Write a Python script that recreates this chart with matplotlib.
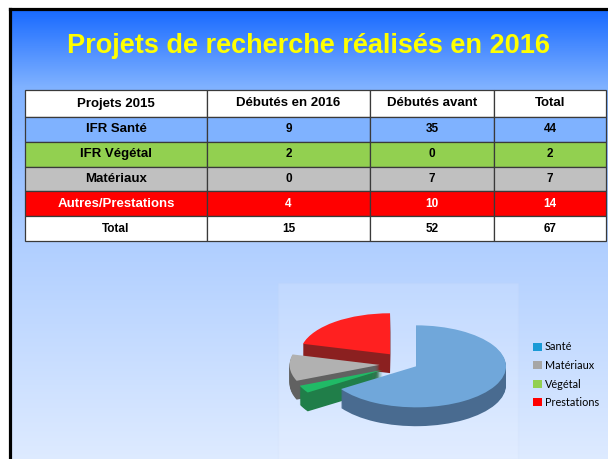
import matplotlib
matplotlib.use('Agg')
import matplotlib.pyplot as plt
import numpy as np
from matplotlib.colors import LinearSegmentedColormap
from matplotlib.patches import Patch, Rectangle

# --- data -------------------------------------------------------------
title = 'Projets de recherche réalisés en 2016'
header = ['Projets 2015', 'Débutés en 2016', 'Débutés avant', 'Total']
row_names = ['IFR Santé', 'IFR Végétal', 'Matériaux', 'Autres/Prestations', 'Total']
started_2016 = [9, 2, 0, 4, 15]
started_before = [35, 0, 7, 10, 52]
row_totals = [44, 2, 7, 14, 67]

# pie slices, clockwise from 12 o'clock
pie_names = ['Santé', 'Végétal', 'Matériaux', 'Prestations']
pie_values = [44, 2, 7, 14]
legend_names = ['Santé', 'Matériaux', 'Végétal', 'Prestations']

W, H = 608, 459


def px_box(x0, y0, x1, y1):
    # pixel box (top-left origin) -> figure fraction rect
    return [x0 / W, 1 - y1 / H, (x1 - x0) / W, (y1 - y0) / H]


fig = plt.figure(figsize=(W / 100, H / 100), dpi=100)
fig.patch.set_facecolor('white')

# slide background with vertical gradient
bg = fig.add_axes(px_box(9.5, 8.5, 620, 470))
grad = LinearSegmentedColormap.from_list(
    'slide', [(0, '#1769ff'), (0.17, '#80b2ff'), (0.5, '#afceff'), (1, '#e0ecff')])
bg.imshow(np.linspace(0, 1, 256).reshape(-1, 1), aspect='auto', cmap=grad,
          extent=[0, 1, 0, 1], origin='upper')
bg.set_xticks([])
bg.set_yticks([])
for side in bg.spines.values():
    side.set_linewidth(2.3)
    side.set_color('black')

fig.text(308.5 / W, 1 - 53 / H, title, ha='center', va='baseline',
         color='#ffff00', fontsize=19.5, fontweight='bold',
         family=['Liberation Sans', 'DejaVu Sans'])

# --- table ------------------------------------------------------------
ax_t = fig.add_axes(px_box(25, 90, 606, 241))
ax_t.axis('off')
cells = [[n, str(a), str(b), str(c)]
         for n, a, b, c in zip(row_names, started_2016, started_before, row_totals)]
row_colors = ['#7fb2ff', '#92d050', '#c0c0c0', '#ff0000', '#ffffff']
tbl = ax_t.table(cellText=cells, colLabels=header,
                 cellColours=[[c] * 4 for c in row_colors],
                 colColours=['#ffffff'] * 4,
                 colWidths=[182, 163, 124, 112],
                 cellLoc='center', bbox=[0, 0, 1, 1])
tbl.auto_set_font_size(False)
for (r, c), cell in tbl.get_celld().items():
    cell.set_edgecolor('#3a3a3a')
    cell.set_linewidth(0.9)
    cell.set_height(27 if r == 0 else 24.8)
    txt = cell.get_text()
    txt.set_fontweight('bold')
    txt.set_family(['Liberation Sans', 'DejaVu Sans'])
    if r == 0 or (c == 0 and r < 5):
        txt.set_fontsize(9.5)
    else:
        txt.set_fontsize(8.5)
    if r == 4:
        txt.set_color('white')

# --- pie chart --------------------------------------------------------
fig.add_artist(Rectangle((278 / W, 0), 240 / W, 1 - 283 / H,
                         transform=fig.transFigure, facecolor='white',
                         alpha=0.13, edgecolor='#c6d8f2', lw=0.8))

ax_p = fig.add_axes(px_box(278, 283, 518, 459))
top_colors = ['#5b9bd5', '#00b050', '#a6a6a6', '#ff0000']
side_colors = ['#2e5680', '#006b2e', '#4a4a4a', '#7a0000']
explode = [0.12, 0.3, 0.3, 0.3]
depth = 0.46
n_layers = 20
for k in range(n_layers, 0, -1):
    ax_p.pie(pie_values, explode=explode, colors=side_colors, startangle=90,
             counterclock=False, center=(0, -depth * k / n_layers),
             wedgeprops=dict(linewidth=0))
ax_p.pie(pie_values, explode=explode, colors=top_colors, startangle=90,
         counterclock=False, wedgeprops=dict(linewidth=0))
ax_p.set_aspect('auto')
ax_p.set_xlim(-1.428, 1.239)
ax_p.set_ylim(-2.317, 1.976)
ax_p.axis('off')

legend_colors = ['#1a9ad6', '#a6a6a6', '#92d050', '#ff0000']
handles = [Patch(facecolor=c, edgecolor='none', label=n)
           for n, c in zip(legend_names, legend_colors)]
fig.legend(handles=handles, loc='upper left',
           bbox_to_anchor=(528 / W, 1 - 336 / H), frameon=False,
           handlelength=0.75, handleheight=0.75, handletextpad=0.3,
           labelspacing=0.7, borderpad=0,
           prop=dict(family=['Lato', 'DejaVu Sans'], size=7.8))

fig.savefig('out.png', dpi=100)
